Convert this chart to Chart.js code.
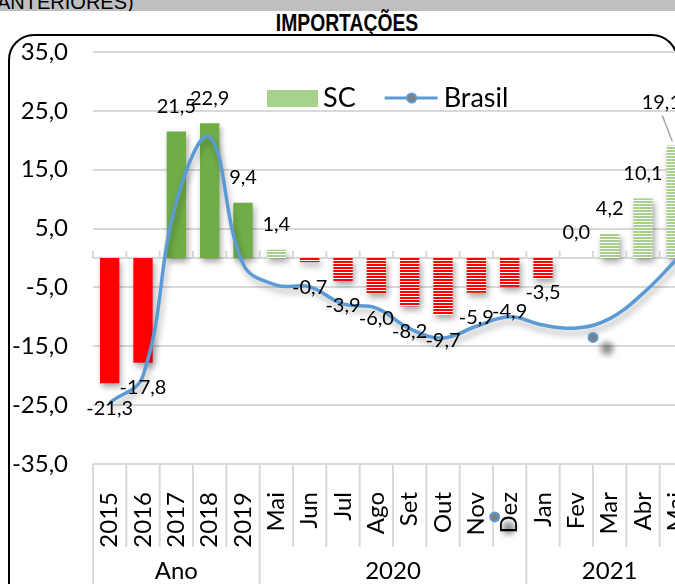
<!DOCTYPE html>
<html lang="pt-BR">
<head>
<meta charset="utf-8">
<title>Importações</title>
<script src="https://cdn.jsdelivr.net/npm/chart.js@4.4.1/dist/chart.umd.min.js"></script>
<style>
  html, body { margin: 0; padding: 0; width: 675px; height: 584px; overflow: hidden; background: #fff; }
  #faixa { position: absolute; left: 0; top: 0; width: 675px; height: 11px; background: #bfbfbf; overflow: hidden; }
  #faixa span { position: absolute; left: -3px; top: -9px; font: 20px 'Liberation Sans', Arial, sans-serif; color: #000; white-space: nowrap; }
  #titulo { position: absolute; left: 247px; top: 10px; width: 200px; text-align: center;
            font: bold 23px 'Liberation Sans', Arial, sans-serif; color: #000; transform: scaleX(0.84); }
  #moldura { position: absolute; left: 8px; top: 34px; width: 666px; height: 620px; border: 2px solid #000; border-radius: 26px; }
  #grafico { position: absolute; left: 0; top: 0; width: 700px; height: 640px; }
</style>
</head>
<body>
<div id="faixa"><span>ANTERIORES)</span></div>
<div id="titulo">IMPORTAÇÕES</div>
<div id="moldura"></div>
<canvas id="grafico" width="700" height="640"></canvas>
<script>
// categorias do eixo (ano / meses de 2020 / meses de 2021)
const categorias = ['2015', '2016', '2017', '2018', '2019',
  'Mai', 'Jun', 'Jul', 'Ago', 'Set', 'Out', 'Nov', 'Dez',
  'Jan', 'Fev', 'Mar', 'Abr', 'Mai'];
const grupos = ['Ano', '2020', '2021'];
const tamanhoGrupos = [5, 8, 5];

// variação % (SC barras, Brasil linha)
const sc = [-21.3, -17.8, 21.5, 22.9, 9.4, 1.4, -0.7, -3.9, -6.0, -8.2, -9.7, -5.9, -4.9, -3.5, 0.0, 4.2, 10.1, 19.1];
const brasil = [-24.6, -20.0, 9.6, 20.5, -1.0, -4.6, -4.9, -7.8, -8.5, -12.0, -13.6, -11.6, -10.0, -11.4, -11.9, -10.3, -6.0, -0.3];

// marcadores avulsos da série Brasil que ficaram soltos no gráfico (posição em categorias, valor)
const marcadoresX = [11.55, 14.5];
const marcadoresY = [-44, -13.5];

const eixoMin = -35, eixoMax = 35, eixoPasso = 10;

// ajustes manuais de rótulos [dx, dy]
const ajusteRotulo = { 13: [0, -11], 17: [-15, -18] };

const VERMELHO = '#FF0000', VERDE = '#70AD47', VERDE_CLARO = '#A9D18E', AZUL = '#5B9BD5';

function listras(cor) {
  const c = document.createElement('canvas');
  c.width = 3; c.height = 3;
  const g = c.getContext('2d');
  g.fillStyle = '#fff'; g.fillRect(0, 0, 3, 3);
  g.fillStyle = cor; g.fillRect(0, 0, 3, 2);
  return g.createPattern(c, 'repeat');
}
const listraVermelha = listras(VERMELHO);
const listraVerde = listras(VERDE_CLARO);

const coresSC = sc.map((v, i) => {
  const anual = i < tamanhoGrupos[0];
  if (v < 0) return anual ? VERMELHO : listraVermelha;
  return anual ? VERDE : listraVerde;
});

const fmt = v => v.toFixed(1).replace('.', ',');

function marcador(ctx, x, y) {
  ctx.beginPath();
  ctx.arc(x, y, 4.5, 0, Math.PI * 2);
  ctx.fillStyle = '#7f7f7f';
  ctx.fill();
  ctx.strokeStyle = AZUL;
  ctx.lineWidth = 2;
  ctx.stroke();
}

// sombra nas séries
const sombra = {
  id: 'sombra',
  beforeDatasetDraw(chart, args) {
    const s = chart.data.datasets[args.index].sombra;
    if (!s) return;
    const ctx = chart.ctx;
    ctx.save();
    ctx.shadowColor = s.cor;
    ctx.shadowBlur = s.blur;
    ctx.shadowOffsetX = s.x;
    ctx.shadowOffsetY = s.y;
  },
  afterDatasetDraw(chart, args) {
    if (chart.data.datasets[args.index].sombra) chart.ctx.restore();
  }
};

// eixo no zero, divisões da tabela de categorias e nomes dos grupos
const eixoCategorias = {
  id: 'eixoCategorias',
  beforeDatasetsDraw(chart) {
    const { ctx, chartArea, scales: { x, y } } = chart;
    const larg = (chartArea.right - chartArea.left) / categorias.length;
    const y0 = y.getPixelForValue(0);
    ctx.save();
    ctx.strokeStyle = '#d9d9d9';
    ctx.lineWidth = 2;
    ctx.beginPath();
    ctx.moveTo(chartArea.left, y0);
    ctx.lineTo(chartArea.right, y0);
    for (let i = 0; i <= categorias.length; i++) {
      const px = x.getPixelForValue(i) - larg / 2;
      ctx.moveTo(px, y0);
      ctx.lineTo(px, y0 - 7);
    }
    ctx.stroke();

    // divisões abaixo da área do gráfico
    const limites = [0];
    tamanhoGrupos.forEach(n => limites.push(limites[limites.length - 1] + n));
    ctx.beginPath();
    for (let i = 0; i <= categorias.length; i++) {
      const px = x.getPixelForValue(i) - larg / 2;
      const fim = limites.includes(i) ? chart.height : chartArea.bottom + 83;
      ctx.moveTo(px, chartArea.bottom);
      ctx.lineTo(px, fim);
    }
    ctx.stroke();

    ctx.fillStyle = '#000';
    ctx.font = '24px Lato';
    ctx.textAlign = 'center';
    ctx.textBaseline = 'middle';
    grupos.forEach((g, k) => {
      const a = x.getPixelForValue(limites[k]) - larg / 2;
      const b = x.getPixelForValue(limites[k + 1] - 1) + larg / 2;
      ctx.fillText(g, (a + b) / 2, chartArea.bottom + 107);
    });
    ctx.restore();
  }
};

// rótulos de valor das barras SC e marcadores soltos
const rotulos = {
  id: 'rotulos',
  afterDatasetsDraw(chart) {
    const ctx = chart.ctx;
    const meta = chart.getDatasetMeta(1);
    const { x, y } = chart.scales;
    ctx.save();
    ctx.font = '20px Lato';
    ctx.fillStyle = '#000';
    ctx.textAlign = 'center';
    ctx.textBaseline = 'middle';
    sc.forEach((v, i) => {
      const px = meta.data[i].x;
      const fimBarra = y.getPixelForValue(v);
      const [dx, dy] = ajusteRotulo[i] || [0, 0];
      const lx = px + dx;
      const ly = fimBarra + (v < 0 ? 25 : -25) + dy;
      ctx.fillText(fmt(v), lx, ly);
      if (i === 17) {
        ctx.strokeStyle = '#a6a6a6';
        ctx.lineWidth = 1.5;
        ctx.beginPath();
        ctx.moveTo(lx + 1, ly + 13);
        ctx.lineTo(px - 4, fimBarra - 4);
        ctx.stroke();
      }
    });
    ctx.restore();

    marcadoresX.forEach((mx, k) => {
      const px = x.getPixelForValue(mx);
      const py = y.getPixelForValue(marcadoresY[k]);
      ctx.save();
      ctx.shadowColor = 'rgba(0,0,0,0.55)';
      ctx.shadowBlur = 7;
      ctx.shadowOffsetX = 14;
      ctx.shadowOffsetY = 11;
      marcador(ctx, px, py);
      ctx.restore();
    });
  }
};

// legenda dentro da área do gráfico
const legenda = {
  id: 'legenda',
  afterDraw(chart) {
    const { ctx, chartArea } = chart;
    const cy = chartArea.top + 46;
    let x0 = chartArea.left + 174;
    ctx.save();
    ctx.font = '27px Lato';
    ctx.textBaseline = 'middle';
    ctx.fillStyle = VERDE_CLARO;
    ctx.fillRect(x0, cy - 8, 51, 17);
    x0 += 56;
    ctx.fillStyle = '#000';
    ctx.fillText('SC', x0, cy);
    x0 += ctx.measureText('SC').width + 29;
    ctx.strokeStyle = AZUL;
    ctx.lineWidth = 3;
    ctx.beginPath();
    ctx.moveTo(x0, cy);
    ctx.lineTo(x0 + 53, cy);
    ctx.stroke();
    marcador(ctx, x0 + 27, cy);
    x0 += 59;
    ctx.fillStyle = '#000';
    ctx.fillText('Brasil', x0, cy);
    ctx.restore();
  }
};

Chart.defaults.font.family = 'Lato';
Chart.defaults.color = '#000';

new Chart(document.getElementById('grafico'), {
  type: 'bar',
  data: {
    labels: categorias,
    datasets: [
      {
        type: 'line',
        label: 'Brasil',
        data: brasil,
        borderColor: AZUL,
        borderWidth: 3.5,
        pointRadius: 0,
        tension: 0.4,
        order: 0,
        sombra: { cor: 'rgba(0,0,0,0.3)', blur: 6, x: 2, y: 5 }
      },
      {
        label: 'SC',
        data: sc,
        backgroundColor: coresSC,
        barPercentage: 0.58,
        categoryPercentage: 1,
        order: 1,
        sombra: { cor: 'rgba(0,0,0,0.35)', blur: 6, x: 2, y: 4 }
      }
    ]
  },
  options: {
    responsive: false,
    animation: false,
    devicePixelRatio: 1,
    layout: { padding: { top: 52, left: 0, right: 7, bottom: 0 } },
    plugins: {
      legend: { display: false },
      tooltip: { enabled: false },
      title: { display: false }
    },
    scales: {
      y: {
        min: eixoMin,
        max: eixoMax,
        ticks: { stepSize: eixoPasso, padding: 25, font: { size: 24 }, callback: v => fmt(v) },
        grid: { color: '#d9d9d9', lineWidth: 2, drawTicks: false },
        border: { display: false },
        afterFit: s => { s.width = 93; }
      },
      x: {
        grid: { display: false },
        border: { display: false },
        ticks: { autoSkip: false, minRotation: 90, maxRotation: 90, padding: 20, font: { size: 24 } },
        afterFit: s => { s.height = 176; s.paddingLeft = 0; s.paddingRight = 0; }
      }
    }
  },
  plugins: [sombra, eixoCategorias, rotulos, legenda]
});
</script>
</body>
</html>
